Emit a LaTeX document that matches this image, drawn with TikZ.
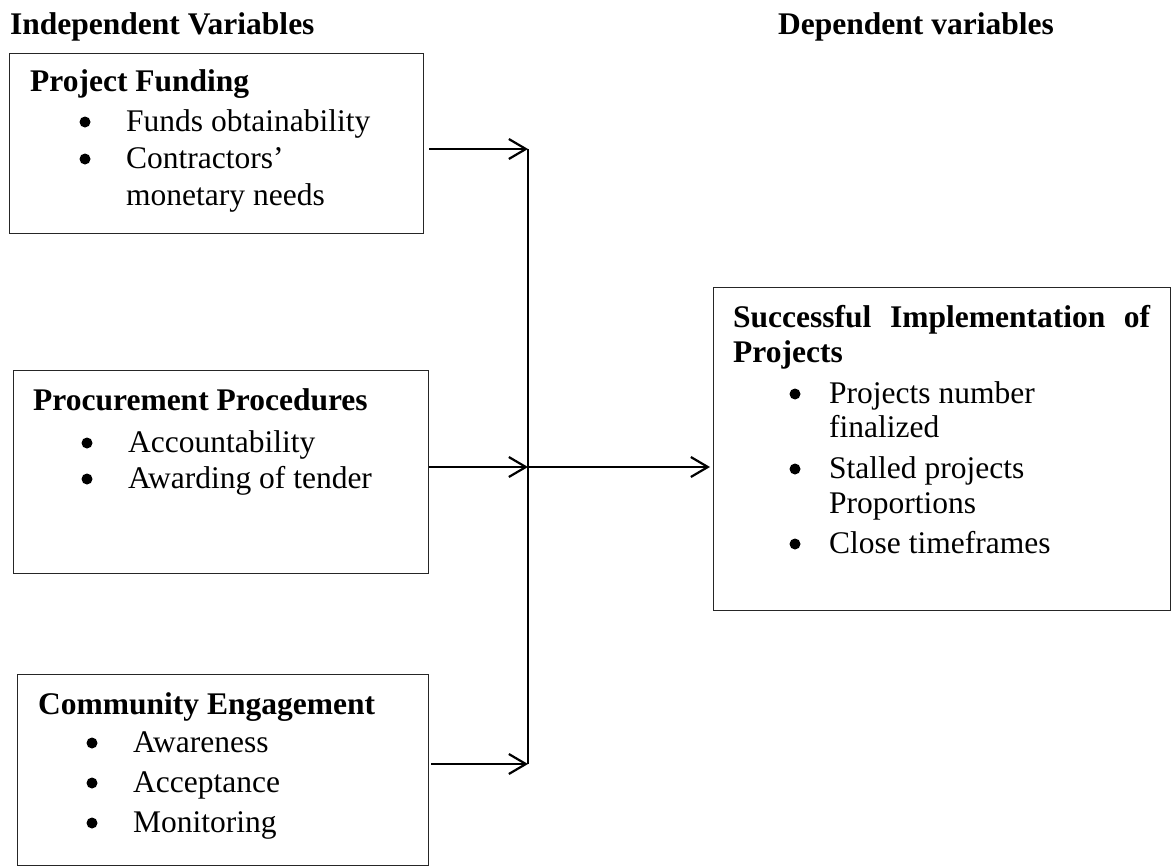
\documentclass[tikz,border=0pt]{standalone}
\usepackage{fontspec}
\setmainfont{Liberation Serif}
\usetikzlibrary{arrows.meta}
\begin{document}
\begin{tikzpicture}[x=1pt,y=-1pt,
  box/.style={draw=black!85, line width=1.3pt, anchor=north west, inner sep=0pt},
  txt/.style={anchor=base west, inner sep=0pt, font=\fontsize{31.5}{37.5}\selectfont},
  btxt/.style={anchor=base west, inner sep=0pt, font=\fontsize{31.5}{37.5}\selectfont\bfseries},
  dot/.style={circle, fill=black, inner sep=0pt, minimum size=11pt},
  arr/.style={line width=2.2pt, -{Straight Barb[length=17pt,width=20pt]}},
  link/.style={line width=2.2pt}]
\useasboundingbox (0,0) rectangle (1172,867);

% headings
\node[btxt] (hind) at (10,35) {Independent Variables};
\node[btxt] (hdep) at (778,35) {Dependent variables};

% boxes
\node[box, minimum width=414pt, minimum height=180pt] (b1) at (9,53) {};
\node[box, minimum width=415pt, minimum height=203pt] (b2) at (13,370) {};
\node[box, minimum width=411pt, minimum height=191pt] (b3) at (17,674) {};
\node[box, minimum width=457pt, minimum height=323pt] (b4) at (713,287) {};

% box 1
\node[btxt] (t1) at (30,92) {Project Funding};
\node[dot] (d11) at (85,122) {};
\node[txt] (i11) at (126,131) {Funds obtainability};
\node[dot] (d12) at (85,159) {};
\node[txt] (i12) at (126,168) {Contractors’};
\node[txt] (i13) at (126,205) {monetary needs};

% box 2
\node[btxt] (t2) at (33,410) {Procurement Procedures};
\node[dot] (d21) at (87,443) {};
\node[txt] (i21) at (128,452) {Accountability};
\node[dot] (d22) at (87,479) {};
\node[txt] (i22) at (128,488) {Awarding of tender};

% box 3
\node[btxt] (t3) at (38,714) {Community Engagement};
\node[dot] (d31) at (92,743) {};
\node[txt] (i31) at (133,752) {Awareness};
\node[dot] (d32) at (92,783) {};
\node[txt] (i32) at (133,792) {Acceptance};
\node[dot] (d33) at (92,823) {};
\node[txt] (i33) at (133,832) {Monitoring};

% box 4
\node[btxt] (t4a) at (733,327) {\hbox to 417pt{Successful\hfill Implementation\hfill of}};
\node[btxt] (t4b) at (733,362) {Projects};
\node[dot] (d41) at (795,394) {};
\node[txt] (i41) at (829,403) {Projects number};
\node[txt] (i42) at (829,437) {finalized};
\node[dot] (d42) at (795,469) {};
\node[txt] (i43) at (829,478) {Stalled projects};
\node[txt] (i44) at (829,513) {Proportions};
\node[dot] (d43) at (795,544) {};
\node[txt] (i45) at (829,553) {Close timeframes};

% connectors
\coordinate (j1) at (528,149);
\coordinate (j2) at (528,467);
\coordinate (j3) at (528,764);
\draw[link] (j1) -- (j3);
\draw[arr, shorten <=5pt] (b1.east |- j1) -- (j1);
\draw[arr] (b2.east |- j2) -- (j2);
\draw[arr, shorten >=3pt] (j2) -- (b4.west |- j2);
\draw[arr, shorten <=2pt] (b3.east |- j3) -- (j3);
\end{tikzpicture}
\end{document}
